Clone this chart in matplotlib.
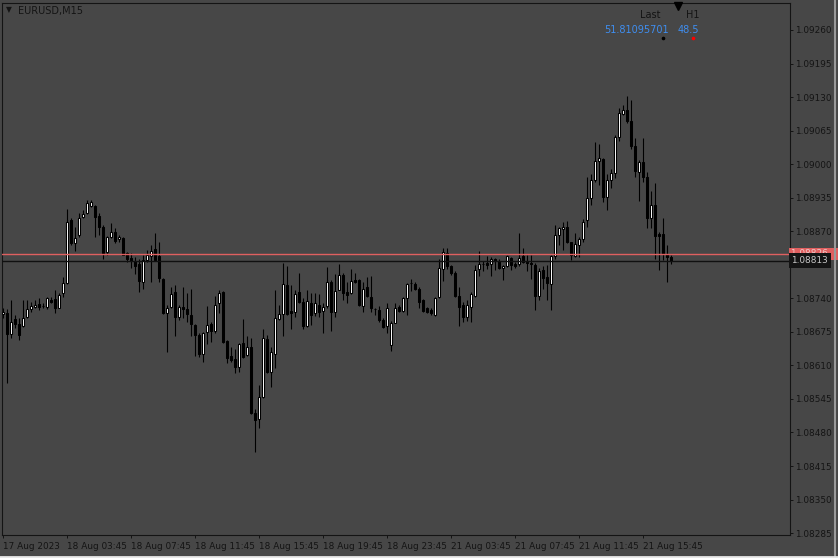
import matplotlib
matplotlib.use("Agg")
import matplotlib.pyplot as plt

# EURUSD M15 bars (17 Aug 23:45 .. 21 Aug 17:30)
opens = [
    1.08710, 1.08711, 1.08670, 1.08699, 1.08691, 1.08687, 1.08703, 1.08719, 1.08724, 1.08729,
    1.08725, 1.08724, 1.08737, 1.08739, 1.08722, 1.08750, 1.08770, 1.08892, 1.08848, 1.08863,
    1.08898, 1.08905, 1.08918, 1.08919, 1.08900, 1.08878, 1.08830, 1.08858, 1.08869, 1.08854,
    1.08856, 1.08827, 1.08818, 1.08812, 1.08806, 1.08772, 1.08814, 1.08822, 1.08835, 1.08822,
    1.08777, 1.08712, 1.08724, 1.08752, 1.08704, 1.08724, 1.08719, 1.08708, 1.08688, 1.08669,
    1.08633, 1.08674, 1.08690, 1.08677, 1.08730, 1.08752, 1.08657, 1.08628, 1.08622, 1.08606,
    1.08654, 1.08630, 1.08646, 1.08518, 1.08507, 1.08548, 1.08662, 1.08598, 1.08633, 1.08700,
    1.08709, 1.08766, 1.08715, 1.08713, 1.08752, 1.08732, 1.08687, 1.08730, 1.08712, 1.08727,
    1.08715, 1.08725, 1.08771, 1.08714, 1.08757, 1.08786, 1.08753, 1.08750, 1.08775, 1.08775,
    1.08726, 1.08761, 1.08743, 1.08719, 1.08717, 1.08698, 1.08686, 1.08649, 1.08693, 1.08723,
    1.08716, 1.08740, 1.08769, 1.08768, 1.08758, 1.08737, 1.08721, 1.08717, 1.08708, 1.08743,
    1.08797, 1.08827, 1.08803, 1.08790, 1.08745, 1.08728, 1.08704, 1.08724, 1.08745, 1.08796,
    1.08806, 1.08809, 1.08806, 1.08816, 1.08813, 1.08798, 1.08802, 1.08819, 1.08806, 1.08806,
    1.08822, 1.08811, 1.08808, 1.08805, 1.08745, 1.08795, 1.08782, 1.08767, 1.08822, 1.08863,
    1.08874, 1.08879, 1.08849, 1.08822, 1.08843, 1.08854, 1.08892, 1.08934, 1.08969, 1.09006,
    1.09010, 1.08937, 1.08969, 1.08982, 1.09053, 1.09097, 1.09105, 1.09084, 1.09036, 1.08985,
    1.09005, 1.08976, 1.08895, 1.08921, 1.08865, 1.08864, 1.08826, 1.08821,
]
highs = [
    1.08721, 1.08719, 1.08737, 1.08708, 1.08701, 1.08737, 1.08737, 1.08733, 1.08737, 1.08740,
    1.08730, 1.08742, 1.08743, 1.08756, 1.08751, 1.08781, 1.08913, 1.08895, 1.08879, 1.08905,
    1.08911, 1.08931, 1.08931, 1.08921, 1.08905, 1.08882, 1.08861, 1.08885, 1.08876, 1.08863,
    1.08859, 1.08830, 1.08828, 1.08821, 1.08817, 1.08824, 1.08834, 1.08843, 1.08866, 1.08849,
    1.08779, 1.08727, 1.08762, 1.08766, 1.08727, 1.08762, 1.08751, 1.08759, 1.08691, 1.08672,
    1.08675, 1.08725, 1.08695, 1.08745, 1.08757, 1.08755, 1.08659, 1.08646, 1.08641, 1.08653,
    1.08699, 1.08667, 1.08664, 1.08525, 1.08572, 1.08680, 1.08669, 1.08646, 1.08756, 1.08728,
    1.08808, 1.08803, 1.08766, 1.08756, 1.08790, 1.08740, 1.08757, 1.08750, 1.08750, 1.08748,
    1.08730, 1.08800, 1.08775, 1.08787, 1.08806, 1.08790, 1.08772, 1.08796, 1.08790, 1.08777,
    1.08772, 1.08782, 1.08783, 1.08721, 1.08725, 1.08701, 1.08730, 1.08696, 1.08730, 1.08728,
    1.08743, 1.08769, 1.08777, 1.08772, 1.08761, 1.08738, 1.08724, 1.08721, 1.08743, 1.08817,
    1.08837, 1.08837, 1.08805, 1.08792, 1.08762, 1.08733, 1.08737, 1.08753, 1.08805, 1.08831,
    1.08812, 1.08822, 1.08821, 1.08819, 1.08816, 1.08805, 1.08824, 1.08821, 1.08811, 1.08867,
    1.08837, 1.08824, 1.08824, 1.08808, 1.08798, 1.08803, 1.08805, 1.08824, 1.08882, 1.08879,
    1.08888, 1.08890, 1.08850, 1.08867, 1.08859, 1.08893, 1.08976, 1.08981, 1.09042, 1.09039,
    1.09011, 1.08980, 1.08990, 1.09057, 1.09108, 1.09115, 1.09132, 1.09124, 1.09050, 1.09009,
    1.09050, 1.08985, 1.08947, 1.08963, 1.08869, 1.08896, 1.08843, 1.08824,
]
lows = [
    1.08701, 1.08576, 1.08664, 1.08682, 1.08659, 1.08685, 1.08701, 1.08714, 1.08721, 1.08717,
    1.08722, 1.08719, 1.08730, 1.08711, 1.08721, 1.08743, 1.08768, 1.08843, 1.08832, 1.08859,
    1.08895, 1.08903, 1.08916, 1.08859, 1.08863, 1.08816, 1.08824, 1.08856, 1.08847, 1.08850,
    1.08823, 1.08811, 1.08798, 1.08788, 1.08753, 1.08759, 1.08811, 1.08772, 1.08813, 1.08772,
    1.08710, 1.08636, 1.08721, 1.08666, 1.08698, 1.08701, 1.08695, 1.08666, 1.08628, 1.08626,
    1.08617, 1.08651, 1.08656, 1.08672, 1.08711, 1.08654, 1.08614, 1.08617, 1.08596, 1.08598,
    1.08624, 1.08628, 1.08516, 1.08443, 1.08488, 1.08546, 1.08595, 1.08568, 1.08604, 1.08698,
    1.08667, 1.08708, 1.08680, 1.08704, 1.08730, 1.08680, 1.08684, 1.08688, 1.08706, 1.08704,
    1.08673, 1.08722, 1.08677, 1.08704, 1.08756, 1.08737, 1.08730, 1.08748, 1.08769, 1.08726,
    1.08714, 1.08743, 1.08714, 1.08708, 1.08695, 1.08682, 1.08673, 1.08638, 1.08692, 1.08714,
    1.08714, 1.08708, 1.08754, 1.08756, 1.08721, 1.08713, 1.08711, 1.08708, 1.08706, 1.08740,
    1.08774, 1.08797, 1.08785, 1.08743, 1.08686, 1.08695, 1.08696, 1.08695, 1.08743, 1.08783,
    1.08792, 1.08796, 1.08784, 1.08795, 1.08797, 1.08775, 1.08800, 1.08795, 1.08799, 1.08802,
    1.08808, 1.08792, 1.08777, 1.08717, 1.08737, 1.08759, 1.08737, 1.08717, 1.08817, 1.08843,
    1.08834, 1.08847, 1.08814, 1.08820, 1.08820, 1.08850, 1.08879, 1.08921, 1.08966, 1.08960,
    1.08927, 1.08911, 1.08953, 1.08973, 1.09044, 1.09095, 1.09079, 1.09029, 1.08976, 1.08929,
    1.08966, 1.08876, 1.08876, 1.08817, 1.08795, 1.08814, 1.08772, 1.08807,
]
closes = [
    1.08714, 1.08670, 1.08695, 1.08691, 1.08668, 1.08701, 1.08719, 1.08725, 1.08728, 1.08724,
    1.08725, 1.08740, 1.08733, 1.08722, 1.08746, 1.08769, 1.08888, 1.08848, 1.08856, 1.08895,
    1.08903, 1.08924, 1.08926, 1.08898, 1.08878, 1.08827, 1.08858, 1.08869, 1.08852, 1.08858,
    1.08824, 1.08817, 1.08812, 1.08803, 1.08774, 1.08814, 1.08823, 1.08832, 1.08814, 1.08779,
    1.08712, 1.08722, 1.08748, 1.08704, 1.08724, 1.08719, 1.08709, 1.08691, 1.08668, 1.08633,
    1.08673, 1.08688, 1.08677, 1.08728, 1.08750, 1.08656, 1.08624, 1.08620, 1.08607, 1.08651,
    1.08626, 1.08646, 1.08517, 1.08505, 1.08548, 1.08664, 1.08598, 1.08635, 1.08701, 1.08709,
    1.08767, 1.08710, 1.08712, 1.08748, 1.08732, 1.08686, 1.08735, 1.08708, 1.08730, 1.08714,
    1.08724, 1.08771, 1.08714, 1.08755, 1.08786, 1.08750, 1.08746, 1.08774, 1.08772, 1.08728,
    1.08758, 1.08745, 1.08721, 1.08719, 1.08697, 1.08685, 1.08722, 1.08693, 1.08722, 1.08716,
    1.08740, 1.08768, 1.08769, 1.08758, 1.08732, 1.08716, 1.08714, 1.08711, 1.08740, 1.08798,
    1.08830, 1.08802, 1.08790, 1.08745, 1.08724, 1.08704, 1.08727, 1.08748, 1.08795, 1.08806,
    1.08806, 1.08805, 1.08816, 1.08812, 1.08798, 1.08803, 1.08822, 1.08805, 1.08803, 1.08819,
    1.08810, 1.08808, 1.08806, 1.08745, 1.08792, 1.08779, 1.08769, 1.08822, 1.08863, 1.08876,
    1.08879, 1.08850, 1.08823, 1.08845, 1.08854, 1.08888, 1.08934, 1.08969, 1.09007, 1.09011,
    1.08936, 1.08969, 1.08982, 1.09053, 1.09099, 1.09104, 1.09084, 1.09036, 1.08987, 1.09005,
    1.08976, 1.08895, 1.08921, 1.08861, 1.08861, 1.08826, 1.08820, 1.08813,
]

time_ticks = [0, 16, 32, 48, 64, 80, 96, 112, 128, 144, 160]
time_labels = ["17 Aug 2023", "18 Aug 03:45", "18 Aug 07:45", "18 Aug 11:45",
               "18 Aug 15:45", "18 Aug 19:45", "18 Aug 23:45", "21 Aug 03:45",
               "21 Aug 07:45", "21 Aug 11:45", "21 Aug 15:45"]
price_ticks = [1.09260, 1.09195, 1.09130, 1.09065, 1.09000, 1.08935, 1.08870, 1.08805,
               1.08740, 1.08675, 1.08610, 1.08545, 1.08480, 1.08415, 1.08350, 1.08285]
bid = 1.08813
ask = 1.08826

BG = "#474747"
INK = "#141414"

W, H = 838, 558
fig = plt.figure(figsize=(W / 100, H / 100), dpi=100, facecolor=BG)
# chart box in pixels: x 2..790, y 3..535
ax = fig.add_axes([2 / W, (H - 535) / H, 788 / W, 532 / H])
ax.set_facecolor(BG)

x = list(range(len(opens)))
for s in ax.spines.values():
    s.set_color(INK)
    s.set_linewidth(0.8)

# wicks
ax.vlines(x, lows, highs, color="black", linewidth=0.8, zorder=2)
# bodies
bull_x = [i for i in x if closes[i] >= opens[i]]
bear_x = [i for i in x if closes[i] < opens[i]]
ax.bar(bull_x, [closes[i] - opens[i] for i in bull_x], bottom=[opens[i] for i in bull_x],
       width=0.58, color="white", edgecolor="black", linewidth=0.75, zorder=3)
ax.bar(bear_x, [opens[i] - closes[i] for i in bear_x], bottom=[closes[i] for i in bear_x],
       width=0.58, color="black", edgecolor="black", linewidth=0.75, zorder=3)

# bid / ask lines
ax.axhline(ask, color="#e06060", linewidth=1.0, zorder=4)
ax.axhline(bid, color="#101010", linewidth=1.0, zorder=4)

ax.set_xlim(-0.325, -0.325 + 788 / 4)
ax.set_ylim(1.082813, 1.093123)

ax.yaxis.tick_right()
ax.set_yticks(price_ticks)
ax.set_yticklabels([f"{p:.5f}" for p in price_ticks])
ax.tick_params(axis="y", direction="out", length=2.5, width=0.7, color=INK,
               labelsize=6.4, labelcolor=INK, pad=1.5)
ax.set_xticks(time_ticks)
ax.set_xticklabels(time_labels)
ax.tick_params(axis="x", direction="out", length=2.5, width=0.7, color=INK,
               labelsize=6.4, labelcolor=INK, pad=2.5)
for lbl in ax.get_xticklabels():
    lbl.set_ha("left")

# price labels on the right scale
ytr = ax.get_yaxis_transform()
ax.text(1.0015, ask, "1.08826   ", transform=ytr, fontsize=6.4, color="#f0c8c8",
        va="center", ha="left", clip_on=False, zorder=6,
        bbox=dict(boxstyle="square,pad=0.2", fc="#e06060", ec="none"))
ax.text(1.0015, bid, "1.08813", transform=ytr, fontsize=6.4, color="#c8c8c8",
        va="center", ha="left", clip_on=False, zorder=7,
        bbox=dict(boxstyle="square,pad=0.3", fc="#141414", ec="none"))

# header texts
def fx(px):
    return px / W

def fy(py):
    return 1 - py / H

fig.text(fx(6), fy(10), "▼", fontsize=5.5, color=INK, ha="left", va="center")
fig.text(fx(18), fy(11), "EURUSD,M15", fontsize=7, color=INK, ha="left", va="center")
fig.text(fx(660), fy(15), "Last", fontsize=7, color=INK, ha="right", va="center")
fig.text(fx(699), fy(15), "H1", fontsize=7, color=INK, ha="right", va="center")
fig.text(fx(669), fy(30), "51.81095701", fontsize=7, color="#3f8ef0", ha="right", va="center")
fig.text(fx(699), fy(30), "48.5", fontsize=7, color="#3f8ef0", ha="right", va="center")
fig.add_artist(plt.Line2D([fx(663)], [fy(38)], marker="o", markersize=1.6, color="black",
                          transform=fig.transFigure))
fig.add_artist(plt.Line2D([fx(693)], [fy(38)], marker="o", markersize=1.6, color="red",
                          transform=fig.transFigure))
fig.add_artist(plt.Line2D([fx(678)], [fy(6)], marker="v", markersize=6, color="black",
                          transform=fig.transFigure))

# window edges
fig.add_artist(plt.Line2D([fx(835), fx(835)], [0, 1], color="#9a9a9a", linewidth=1.5,
                          transform=fig.transFigure))
fig.add_artist(plt.Line2D([0, 1], [fy(556.5), fy(556.5)], color="#e8e8e8", linewidth=2,
                          transform=fig.transFigure))

fig.savefig("out.png", dpi=100, facecolor=BG)
